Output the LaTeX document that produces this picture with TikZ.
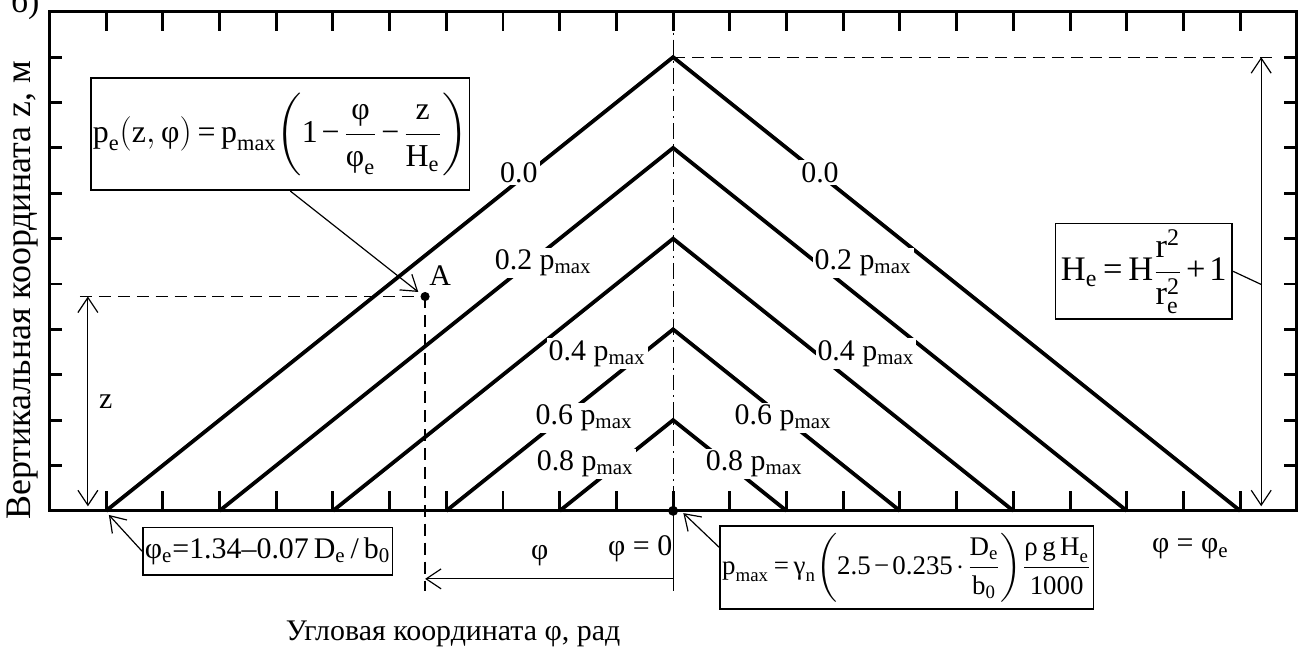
\documentclass[tikz,border=0pt]{standalone}
\usepackage{amsmath}
\usepackage{fontspec}
\setmainfont{Liberation Serif}
\usetikzlibrary{arrows.meta,positioning,calc}

\newcommand{\tx}[1]{\text{#1}}
\newcommand{\eqs}{\mathrel{\text{=}}}
\newcommand{\mns}{\mathbin{\text{−}}}
\newcommand{\pls}{\mathbin{\text{+}}}

\tikzset{
  curve/.style={line width=1.9pt},
  frame/.style={line width=1.5pt},
  tickmark/.style={line width=1.5pt},
  thinline/.style={line width=0.6pt},
  dimline/.style={thinline, {Straight Barb[length=7.5pt,width=10pt]}-{Straight Barb[length=7.5pt,width=10pt]}},
  callout/.style={thinline, -{Straight Barb[length=7.5pt,width=10pt]}},
  dashline/.style={thinline, dash pattern=on 6pt off 3.5pt},
  axisline/.style={thinline, dash pattern=on 8pt off 2.5pt on 1pt off 2.5pt},
  level/.style={fill=white, inner sep=1pt, font=\fontsize{15}{18}\selectfont},
  formula/.style={draw, line width=0.8pt, fill=white, inner sep=1pt,
    execute at begin node={\medmuskip=2mu\thickmuskip=3mu}}
}

\begin{document}
\begin{tikzpicture}[x=1cm, y=0.8cm]
  \useasboundingbox (-11.87,-3.157) rectangle (11.16,11.26);
  % axis of symmetry
  \draw[axisline] (0,11) -- (0,0);
  % frame and ticks
  \draw[frame] (-11,0) rectangle (11,11);
  \foreach \i in {-10,...,10} {
    \draw[tickmark] (\i,0) -- ++(0,0.44);
    \draw[tickmark] (\i,11) -- ++(0,-0.42);
  }
  \foreach \j in {1,...,10} {
    \draw[tickmark] (-11,\j) -- ++(0.23,0);
    \draw[tickmark] (11,\j) -- ++(-0.23,0);
  }
  % pressure levels
  \foreach \h in {10,8,6,4,2}
    \draw[curve] (-\h,0) -- (0,\h) -- (\h,0);
  \node[level] (l0L) at (-2.72,7.46) {0.0};
  \node[level] (l0R) at (2.59,7.46) {0.0};
  \node[level] (l2L) at (-2.29,5.47) {0.2 p\textsubscript{max}};
  \node[level] (l2R) at (3.35,5.47) {0.2 p\textsubscript{max}};
  \node[level] (l4L) at (-1.34,3.47) {0.4 p\textsubscript{max}};
  \node[level] (l4R) at (3.40,3.47) {0.4 p\textsubscript{max}};
  \node[level] (l6L) at (-1.57,2.05) {0.6 p\textsubscript{max}};
  \node[level] (l6R) at (1.94,2.05) {0.6 p\textsubscript{max}};
  \node[level] (l8L) at (-1.55,1.04) {0.8 p\textsubscript{max}};
  \node[level] (l8R) at (1.43,1.04) {0.8 p\textsubscript{max}};
  % point A
  \coordinate (O) at (0,0);
  \coordinate (A) at (-4.374,4.724);
  \coordinate (phie) at (-10,0);
  \fill (O) circle (2.5pt);
  \fill (A) circle (2.3pt);
  \node[font=\fontsize{15}{18}\selectfont] (Alab) at (-4.11,5.19) {A};
  % dimensions
  \coordinate (zL) at (-10.46,4.724);
  \coordinate (zb) at (-10.32,0.1);
  \coordinate (zt) at (-10.32,4.724);
  \draw[dashline] (zL) -- (A);
  \draw[dashline] (A) -- (-4.374,-1.77);
  \draw[dimline] (zb) -- (zt) node[midway, right=2pt, font=\fontsize{15}{18}\selectfont] (zlab) {z};
  \coordinate (top) at (0,10);
  \coordinate (topR) at (10.56,10);
  \coordinate (hb) at (10.37,0.1);
  \coordinate (ht) at (10.37,10);
  \draw[dashline] (top) -- (topR);
  \draw[dimline] (hb) -- (ht);
  \coordinate (phl) at (-4.374,-1.5);
  \coordinate (phr) at (0,-1.5);
  \draw[thinline] (O) -- (0,-1.77);
  \draw[callout] (phr) -- (phl);
  \node[font=\fontsize{15}{18}\selectfont] (phlab) at (-2.35,-0.99) {φ};
  \node[font=\fontsize{15}{18}\selectfont] (phzero) at (-0.58,-0.84) {φ = 0};
  \node[font=\fontsize{15}{18}\selectfont] (phend) at (9.12,-0.84) {φ = φ\textsubscript{e}};
  % formulas
  \node[formula, minimum width=6.46cm, minimum height=1.975cm, font=\fontsize{16}{19}\selectfont] (tlbox) at (-6.93,8.30)
    {$\tx{p}_{\tx{e}}\!\left(\tx{z},\tx{φ}\right)\eqs\tx{p}_{\tx{max}}\!\left(\tx{1}\mns\dfrac{\tx{φ}}{\tx{φ}_{\tx{e}}}\mns\dfrac{\tx{z}}{\tx{H}_{\tx{e}}}\right)$};
  \node[formula, minimum width=3.12cm, minimum height=1.69cm, font=\fontsize{17.28}{21}\selectfont] (hebox) at (8.30,5.28)
    {$\tx{H}_{\tx{e}}\eqs\tx{H}\dfrac{\tx{r}^{\tx{2}}}{\tx{r}_{\tx{e}}^{\tx{2}}}\pls\tx{1}$};
  \node[formula, minimum width=4.39cm, minimum height=0.83cm, font=\fontsize{15}{18}\selectfont] (blbox) at (-7.15,-0.89)
    {φ\textsubscript{e}=1.34–0.07\,D\textsubscript{e}\,/\,b\textsubscript{0}};
  \node[formula, minimum width=6.51cm, minimum height=1.46cm, font=\fontsize{13.5}{16}\selectfont] (brbox) at (4.12,-1.25)
    {$\tx{p}_{\tx{max}}\eqs\tx{γ}_{\tx{n}}\!\left(\tx{2.5}\mns\tx{0.235}\cdot\dfrac{\tx{D}_{\tx{e}}}{\tx{b}_{\tx{0}}}\right)\!\dfrac{\tx{ρ\,g\,H}_{\tx{e}}}{\tx{1000}}$};
  \coordinate (hedim) at (10.37,4.99);
  \draw[thinline] (hebox.east) -- (hedim);
  \draw[callout] ([xshift=0.18cm]tlbox.south) -- ([shift={(-0.12,0.1)}]A);
  \draw[callout] (blbox.west) -- ([shift={(0.05,-0.09)}]phie);
  \draw[callout] ([yshift=-0.39cm]brbox.north west) -- ([shift={(0.18,-0.05)}]O);
  % axis labels
  \node[rotate=90, font=\fontsize{18}{21}\selectfont] (ylab) at (-11.48,4.86) {Вертикальная координата z, м};
  \node[font=\fontsize{15}{18}\selectfont] (xlab) at (-3.88,-2.72) {Угловая координата φ, рад};
  \node[anchor=base west, font=\fontsize{17}{20}\selectfont] (panel) at (-11.80,10.99) {б)};
\end{tikzpicture}
\end{document}
